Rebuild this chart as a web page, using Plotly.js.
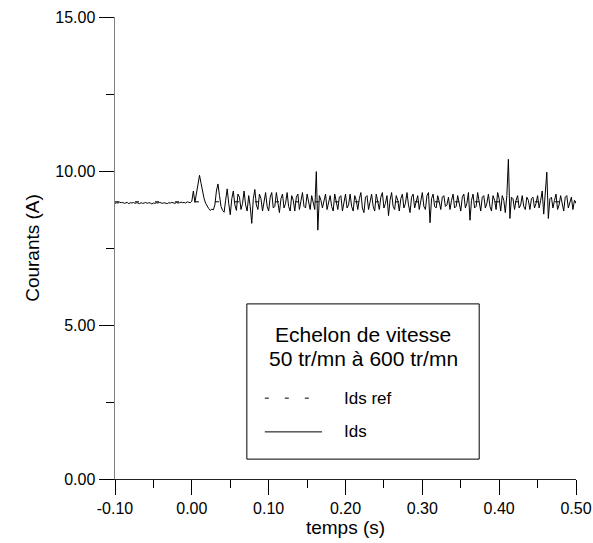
<!DOCTYPE html>
<html>
<head>
<meta charset="utf-8">
<script src="https://cdn.plot.ly/plotly-3.0.1.min.js"></script>
<style>html,body{margin:0;padding:0;background:#fff;}#chart{width:593px;height:543px;}</style>
</head>
<body>
<div id="chart"></div>
<script>
// ---- data ----
const seriesNames = ['Ids ref', 'Ids'];
const legendTitle = ['Echelon de vitesse', '50 tr/mn à 600 tr/mn'];
const xTitle = 'temps (s)';
const yTitle = 'Courants (A)';
const xTickVals = [-0.1, 0, 0.1, 0.2, 0.3, 0.4, 0.5];
const xTickLabels = ['-0.10', '0.00', '0.10', '0.20', '0.30', '0.40', '0.50'];
const yTickVals = [0, 5, 10, 15];
const yTickLabels = ['0.00', '5.00', '10.00', '15.00'];

// sampled signal: first sample time and sampling step (s)
const t0 = -0.1;
const dt = 0.002;

// Ids before the speed step (t = -0.100 .. -0.002)
const idsBefore = [
  8.95, 8.97, 8.96, 8.99, 8.97, 8.98, 8.95, 8.96, 8.98, 8.94,
  8.97, 8.96, 8.98, 8.95, 8.97, 8.96, 8.94, 8.97, 8.95, 8.96,
  8.98, 8.95, 8.97, 8.96, 8.93, 8.96, 8.95, 8.97, 8.96, 8.98,
  8.96, 8.95, 8.97, 8.96, 8.94, 8.97, 8.96, 8.98, 8.97, 8.95,
  8.98, 8.96, 8.97, 8.99, 8.97, 8.98, 8.96, 9.00, 8.98, 8.97
];
// Ids after the speed step (t = 0.000 .. 0.500), one row = 0.02 s
const idsAfter = [
  9.02, 9.35, 8.98, 9.30, 9.65, 9.86, 9.60, 9.30, 9.10, 8.95,
  8.85, 8.78, 8.72, 8.76, 8.74, 8.90, 9.35, 9.58, 9.20, 8.85,
  8.72, 8.66, 9.05, 9.42, 8.95, 8.58, 9.10, 9.35, 8.90, 8.72,
  9.25, 9.15, 8.75, 8.95, 9.35, 8.90, 8.70, 9.20, 8.85, 8.30,
  9.10, 9.40, 8.90, 8.75, 9.25, 9.10, 8.70, 8.95, 9.30, 8.85,
  8.70, 9.15, 9.30, 8.80, 8.85, 9.30, 8.95, 8.65, 9.10, 9.25,
  8.80, 8.95, 9.30, 8.85, 8.70, 9.20, 9.05, 8.70, 9.15, 9.25,
  8.75, 9.00, 9.30, 8.85, 8.80, 9.25, 8.95, 8.75, 9.20, 9.00,
  8.75, 9.98, 8.08, 9.20, 9.05, 8.80, 9.10, 9.25, 8.75, 8.95,
  9.20, 8.85, 8.70, 9.25, 9.00, 8.75, 9.15, 9.20, 8.70, 9.05,
  9.25, 8.80, 8.90, 9.25, 8.85, 8.70, 9.20, 9.05, 8.75, 9.10,
  9.30, 8.80, 8.65, 9.15, 9.20, 8.75, 9.00, 9.25, 8.85, 8.70,
  9.25, 9.05, 8.75, 9.15, 9.30, 8.80, 8.95, 9.20, 8.55, 9.05,
  9.30, 8.85, 8.75, 9.20, 9.05, 8.70, 9.10, 9.25, 8.80, 8.95,
  9.30, 8.90, 8.65, 9.15, 9.25, 8.80, 9.00, 9.20, 8.75, 9.05,
  9.30, 8.85, 8.75, 9.20, 9.30, 8.32, 9.10, 9.25, 8.85, 8.80,
  9.20, 9.00, 8.75, 9.15, 9.20, 8.85, 8.90, 9.15, 8.75, 9.05,
  9.25, 8.80, 8.85, 9.20, 9.00, 8.70, 9.15, 9.25, 8.80, 8.95,
  9.30, 8.40, 9.05, 9.25, 8.80, 8.85, 9.30, 8.95, 8.70, 9.15,
  9.20, 8.80, 8.95, 9.25, 8.85, 8.70, 9.20, 9.05, 8.75, 9.30,
  9.10, 8.70, 9.20, 9.05, 8.65, 9.20, 10.38, 8.46, 9.15, 9.10,
  8.75, 9.05, 9.20, 8.80, 8.90, 9.20, 8.85, 8.75, 9.15, 9.05,
  8.75, 9.10, 9.15, 8.80, 8.95, 9.20, 8.80, 9.05, 9.35, 8.60,
  9.20, 9.96, 8.46, 9.10, 9.15, 8.80, 9.05, 9.25, 8.75, 8.90,
  9.20, 8.95, 8.70, 9.15, 9.20, 8.80, 9.00, 9.15, 8.75, 9.05,
  8.95
];
// reference current (constant over the record)
const idsRefTime = [-0.1, 0.5];
const idsRef = [9.0, 9.0];

// ---- chart ----
const FONT = '"Liberation Sans", Arial, Helvetica, sans-serif';
const ids = idsBefore.concat(idsAfter);

const traces = [
  {
    type: 'scatter', mode: 'lines', name: seriesNames[0],
    x: idsRefTime, y: idsRef,
    line: {color: '#000', width: 1, dash: '4px,16px'},
    hoverinfo: 'skip'
  },
  {
    type: 'scatter', mode: 'lines', name: seriesNames[1],
    x0: t0, dx: dt, y: ids,
    line: {color: '#000', width: 1}
  }
];

// legend drawn inside a framed box (paper coordinates)
const boxX0 = 0.286, boxX1 = 0.790, boxY0 = 0.043, boxY1 = 0.379;
const sampleX0 = 0.325, textX = 0.492;
const rowY = [0.175, 0.102];

const layout = {
  width: 593, height: 543,
  margin: {l: 115, r: 17, t: 17, b: 64},
  paper_bgcolor: '#fff', plot_bgcolor: '#fff',
  font: {family: FONT, size: 16, color: '#000'},
  showlegend: false,
  xaxis: {
    range: [-0.1, 0.5], tickvals: xTickVals, ticktext: xTickLabels,
    ticks: 'outside', ticklen: 15, tickwidth: 1, tickcolor: '#000',
    minor: {dtick: 0.05, tick0: 0, ticks: 'outside', ticklen: 8, tickwidth: 1, tickcolor: '#000', showgrid: false},
    showline: true, linecolor: '#222', linewidth: 1,
    showgrid: false, zeroline: false,
    tickfont: {size: 16, family: FONT},
    title: {text: xTitle, font: {size: 19, family: FONT}, standoff: 3}
  },
  yaxis: {
    range: [0, 15], tickvals: yTickVals, ticktext: yTickLabels,
    ticks: 'outside', ticklen: 15, tickwidth: 1, tickcolor: '#000',
    minor: {dtick: 2.5, tick0: 0, ticks: 'outside', ticklen: 8, tickwidth: 1, tickcolor: '#000', showgrid: false},
    showline: true, linecolor: '#808080', linewidth: 1.5,
    showgrid: false, zeroline: false,
    tickfont: {size: 16, family: FONT},
    title: {text: yTitle, font: {size: 19, family: FONT}, standoff: 10}
  },
  shapes: [
    {type: 'rect', xref: 'paper', yref: 'paper', x0: boxX0, x1: boxX1, y0: boxY0, y1: boxY1,
     line: {color: '#000', width: 1}, fillcolor: '#fff', layer: 'above'},
    {type: 'line', xref: 'paper', yref: 'paper', x0: sampleX0, x1: sampleX0 + 0.096, y0: rowY[0], y1: rowY[0],
     line: {color: '#000', width: 1, dash: '4px,16px'}},
    {type: 'line', xref: 'paper', yref: 'paper', x0: sampleX0, x1: sampleX0 + 0.124, y0: rowY[1], y1: rowY[1],
     line: {color: '#000', width: 1}}
  ],
  annotations: [
    {xref: 'paper', yref: 'paper', x: (boxX0 + boxX1) / 2, y: 0.312, xanchor: 'center', yanchor: 'middle',
     text: legendTitle[0], showarrow: false, font: {size: 21, family: FONT, color: '#000'}},
    {xref: 'paper', yref: 'paper', x: (boxX0 + boxX1) / 2, y: 0.261, xanchor: 'center', yanchor: 'middle',
     text: legendTitle[1], showarrow: false, font: {size: 21, family: FONT, color: '#000'}},
    {xref: 'paper', yref: 'paper', x: textX, y: rowY[0], xanchor: 'left', yanchor: 'middle',
     text: seriesNames[0], showarrow: false, font: {size: 17, family: FONT, color: '#000'}},
    {xref: 'paper', yref: 'paper', x: textX, y: rowY[1], xanchor: 'left', yanchor: 'middle',
     text: seriesNames[1], showarrow: false, font: {size: 17, family: FONT, color: '#000'}}
  ]
};

Plotly.newPlot('chart', traces, layout, {displayModeBar: false, staticPlot: true});
</script>
</body>
</html>
